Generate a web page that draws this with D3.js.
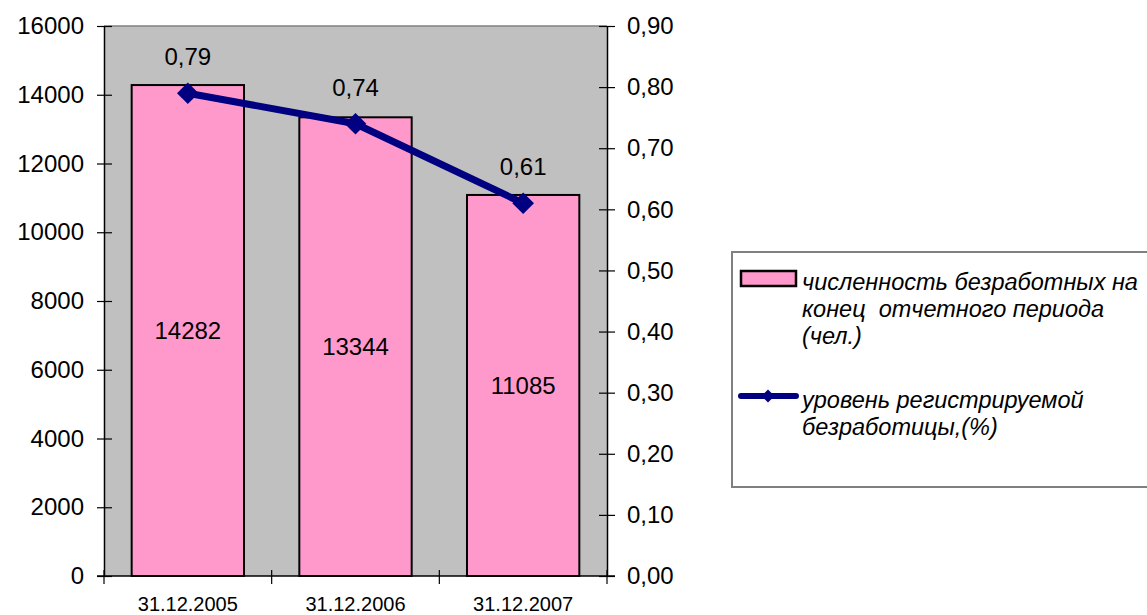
<!DOCTYPE html>
<html>
<head>
<meta charset="utf-8">
<script src="https://cdn.jsdelivr.net/npm/d3@7"></script>
<style>
  body { margin: 0; background: #fff; }
  text { font-family: "Liberation Sans", Arial, sans-serif; fill: #000; }
</style>
</head>
<body>
<svg id="chart" width="1147" height="615"></svg>
<script>
// data
const dates = ["31.12.2005", "31.12.2006", "31.12.2007"];
const unemployed = [14282, 13344, 11085];
const rate = [0.79, 0.74, 0.61];
const leftTicks = [0, 2000, 4000, 6000, 8000, 10000, 12000, 14000, 16000];
const rightTicks = [0, 0.1, 0.2, 0.3, 0.4, 0.5, 0.6, 0.7, 0.8, 0.9];
const legendBar = ["численность безработных на", "конец  отчетного периода", "(чел.)"];
const legendLine = ["уровень регистрируемой", "безработицы,(%)"];

const svg = d3.select("#chart");
const plot = {left: 104, right: 607, top: 26, bottom: 576};
const fmtComma = d => d.toFixed(2).replace(".", ",");

const x = d3.scaleBand()
  .domain(dates)
  .range([plot.left, plot.right])
  .paddingInner(0.33)
  .paddingOuter(0.165);

const yLeft = d3.scaleLinear().domain([0, 16000]).range([plot.bottom, plot.top]);
const yRight = d3.scaleLinear().domain([0, 0.9]).range([plot.bottom, plot.top]);

// plot background
svg.append("rect")
  .attr("x", plot.left).attr("y", plot.top)
  .attr("width", plot.right - plot.left).attr("height", plot.bottom - plot.top)
  .attr("fill", "#c0c0c0");
svg.append("line")
  .attr("x1", plot.left).attr("x2", plot.right)
  .attr("y1", plot.top).attr("y2", plot.top)
  .attr("stroke", "#808080").attr("stroke-width", 1.5);

// bars
svg.append("g").selectAll("rect")
  .data(unemployed)
  .enter().append("rect")
  .attr("x", (d, i) => x(dates[i]))
  .attr("y", d => yLeft(d))
  .attr("width", x.bandwidth())
  .attr("height", d => yLeft(0) - yLeft(d))
  .attr("fill", "#ff99cc")
  .attr("stroke", "#000")
  .attr("stroke-width", 2);

svg.append("g").selectAll("text")
  .data(unemployed)
  .enter().append("text")
  .attr("x", (d, i) => x(dates[i]) + x.bandwidth() / 2)
  .attr("y", d => (yLeft(d) + yLeft(0)) / 2)
  .attr("dy", "0.35em")
  .attr("text-anchor", "middle")
  .style("font-size", "24px")
  .text(d => d);

// axes
const leftAxis = d3.axisLeft(yLeft).tickValues(leftTicks).tickFormat(d3.format("d"))
  .tickSizeInner(7).tickSizeOuter(0).tickPadding(13);
const gl = svg.append("g").attr("transform", `translate(${plot.left},0)`).call(leftAxis);
gl.selectAll(".tick line").attr("x2", -7).attr("x1", 8);

const rightAxis = d3.axisRight(yRight).tickValues(rightTicks).tickFormat(fmtComma)
  .tickSizeInner(8).tickSizeOuter(0).tickPadding(12);
const gr = svg.append("g").attr("transform", `translate(${plot.right},0)`).call(rightAxis);
gr.selectAll(".tick line").attr("x1", -8);

[gl, gr].forEach(g => {
  g.select(".domain").attr("stroke", "#000").attr("stroke-width", 1.5);
  g.selectAll(".tick line").attr("stroke", "#000").attr("stroke-width", 1.2);
  g.selectAll(".tick text").style("font-size", "24px").attr("fill", "#000");
  g.attr("font-family", null).attr("font-size", null);
});

// category axis with ticks on band boundaries
const gb = svg.append("g");
gb.append("line")
  .attr("x1", plot.left - 7).attr("x2", plot.right + 8)
  .attr("y1", plot.bottom).attr("y2", plot.bottom)
  .attr("stroke", "#000").attr("stroke-width", 1.5);
const bounds = [plot.left].concat(dates.map(d => x(d) - x.step() * x.paddingInner() / 2 + x.step()));
gb.selectAll(".bt")
  .data(bounds)
  .enter().append("line")
  .attr("x1", d => d).attr("x2", d => d)
  .attr("y1", plot.bottom - 6).attr("y2", plot.bottom + 8)
  .attr("stroke", "#000").attr("stroke-width", 1.2);
gb.selectAll("text")
  .data(dates)
  .enter().append("text")
  .attr("x", d => x(d) + x.bandwidth() / 2)
  .attr("y", 611)
  .attr("text-anchor", "middle")
  .style("font-size", "20px")
  .text(d => d);

// rate line
const line = d3.line()
  .x((d, i) => x(dates[i]) + x.bandwidth() / 2)
  .y(d => yRight(d));

svg.append("path")
  .datum(rate)
  .attr("d", line)
  .attr("fill", "none")
  .attr("stroke", "#000080")
  .attr("stroke-width", 7)
  .attr("stroke-linejoin", "round");

const diamond = d3.symbol().type(d3.symbolDiamond2);
svg.append("g").selectAll("path")
  .data(rate)
  .enter().append("path")
  .attr("transform", (d, i) => `translate(${x(dates[i]) + x.bandwidth() / 2},${yRight(d)})`)
  .attr("d", diamond.size(300)())
  .attr("fill", "#000080");

svg.append("g").selectAll("text")
  .data(rate)
  .enter().append("text")
  .attr("x", (d, i) => x(dates[i]) + x.bandwidth() / 2)
  .attr("y", d => yRight(d) - 28)
  .attr("text-anchor", "middle")
  .style("font-size", "24px")
  .text(fmtComma);

// legend
const lg = svg.append("g");
lg.append("rect")
  .attr("x", 732).attr("y", 252)
  .attr("width", 420).attr("height", 235)
  .attr("fill", "#fff")
  .attr("stroke", "#808080")
  .attr("stroke-width", 2);

lg.append("rect")
  .attr("x", 741).attr("y", 271)
  .attr("width", 55).attr("height", 15)
  .attr("fill", "#ff99cc")
  .attr("stroke", "#000")
  .attr("stroke-width", 2.5);

lg.append("line")
  .attr("x1", 741).attr("x2", 796)
  .attr("y1", 396).attr("y2", 396)
  .attr("stroke", "#000080")
  .attr("stroke-width", 6)
  .attr("stroke-linecap", "round");
lg.append("path")
  .attr("transform", "translate(768,396)")
  .attr("d", diamond.size(110)())
  .attr("fill", "#000080");

lg.selectAll(".lb")
  .data(legendBar)
  .enter().append("text")
  .attr("x", 802)
  .attr("y", (d, i) => 290 + i * 27)
  .attr("xml:space", "preserve")
  .style("font-size", "23.5px")
  .style("font-style", "italic")
  .style("white-space", "pre")
  .text(d => d);

lg.selectAll(".ll")
  .data(legendLine)
  .enter().append("text")
  .attr("x", 802)
  .attr("y", (d, i) => 408 + i * 27)
  .style("font-size", "23.5px")
  .style("font-style", "italic")
  .text(d => d);
</script>
</body>
</html>
